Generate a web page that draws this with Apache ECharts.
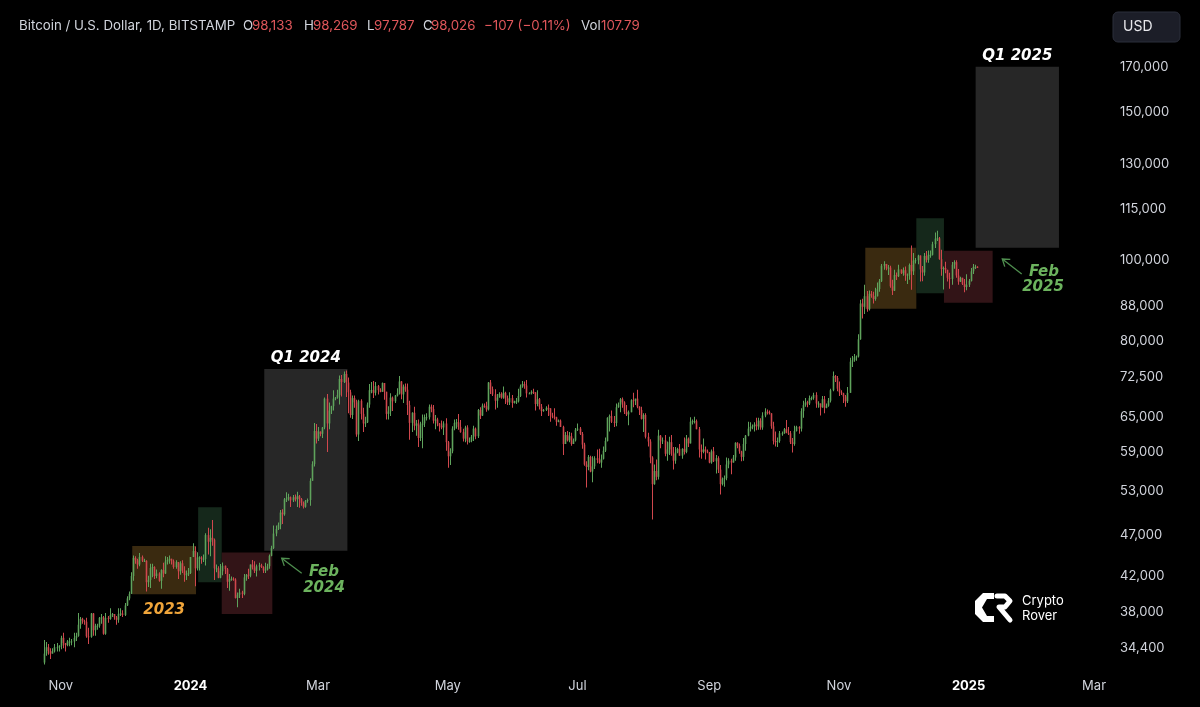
<!DOCTYPE html>
<html><head><meta charset="utf-8">
<script src="https://cdn.jsdelivr.net/npm/echarts@6/dist/echarts.min.js"></script>
<style>html,body{margin:0;padding:0;background:#000}#c{width:1200px;height:707px}</style>
</head><body><div id="c"></div>
<script>
// ---------- DATA (prices in thousands of USD, daily, BITSTAMP) ----------
const startDate = '2023-10-24';
const firstOpen = 33.08;
const closeK = [
// Oct 2023 (24-31)
33.9,34.5,34.15,33.9,34.1,34.5,34.5,34.65,
// Nov 2023
35.4,34.9,34.7,35.05,35.05,35.05,35.4,35.6,36.7,37.3,37.1,37.0,35.55,35.5,37.85,36.15,36.6,36.6,37.4,37.45,35.8,37.4,37.3,37.7,37.8,37.45,37.2,37.8,37.85,37.7,
// Dec 2023
38.7,39.45,39.95,41.95,44.1,43.8,43.3,44.2,43.75,43.75,41.25,41.5,42.9,43.0,41.95,42.25,41.4,42.65,42.25,43.65,43.85,43.99,43.7,43.0,43.6,42.5,43.45,42.6,42.1,42.15,42.3,
// Jan 2024
44.2,44.95,42.85,44.15,44.15,43.95,43.95,46.95,46.1,46.6,46.35,42.85,42.85,41.75,42.5,43.15,42.75,41.3,41.6,41.65,41.55,39.5,39.85,40.1,39.95,41.8,42.1,42.0,43.3,42.95,42.55,
// Feb 2024
43.1,43.2,43.0,42.6,42.7,43.1,44.35,45.3,47.15,47.75,48.3,49.95,49.7,51.8,51.9,52.1,51.65,52.1,51.8,52.25,51.85,51.3,50.75,51.55,51.7,54.5,57.05,62.5,61.2,
// Mar 2024
62.4,62.0,63.1,68.3,63.8,66.1,66.9,68.3,68.5,69.0,72.1,71.5,73.1,71.4,69.5,65.3,68.4,67.6,61.9,67.9,65.5,63.8,64.0,67.2,69.9,69.9,69.4,70.7,69.9,69.6,71.3,
// Apr 2024
69.6,65.5,65.95,68.5,67.8,68.9,69.3,71.6,69.1,70.6,70.0,67.1,63.9,65.7,63.4,63.8,61.3,63.5,63.8,64.9,64.9,66.8,66.4,64.3,64.5,63.8,63.4,63.1,63.8,60.6,
// May 2024
58.3,59.1,62.9,63.9,64.0,63.2,62.3,61.2,63.1,60.8,60.8,61.5,62.9,61.6,66.2,65.2,67.0,66.9,66.3,71.4,70.1,69.1,67.9,68.5,69.2,68.5,69.4,68.3,67.6,68.4,67.5,
// Jun 2024
67.8,67.8,68.8,70.6,71.1,70.8,69.3,69.3,69.6,69.5,67.3,68.2,66.8,66.0,66.2,66.6,66.5,65.2,65.0,64.9,64.1,64.3,63.2,60.3,61.8,60.9,61.6,60.3,60.9,62.7,
// Jul 2024
62.9,62.0,60.2,57.0,56.6,58.2,55.9,56.7,58.0,57.7,57.3,57.9,59.2,60.8,64.8,65.1,64.1,63.9,66.7,67.2,68.2,67.6,65.9,65.4,65.8,68.0,67.9,68.3,66.8,66.2,64.6,
// Aug 2024
65.3,61.5,60.7,58.1,54.0,56.0,55.1,61.7,60.9,60.9,58.7,59.4,60.6,58.7,57.6,58.9,59.5,58.4,59.5,59.0,61.2,60.4,64.1,64.2,64.2,62.8,59.4,59.0,59.4,59.1,58.9,
// Sep 2024
57.3,59.1,57.5,58.0,56.2,54.0,54.8,54.9,57.0,57.6,57.3,58.1,60.5,60.0,59.1,58.2,60.3,61.7,62.9,63.2,63.3,63.6,63.3,64.3,63.1,65.2,65.9,65.8,65.6,63.3,
// Oct 2024
60.8,60.6,60.8,62.1,62.1,62.8,62.2,62.1,60.6,60.3,62.5,63.2,62.9,66.0,67.1,67.6,67.4,68.4,68.4,69.0,67.4,67.4,66.7,68.2,66.6,67.0,67.9,69.9,72.7,72.3,70.2,
// Nov 2024
69.5,69.3,68.7,67.8,69.4,75.6,75.9,76.5,76.7,80.4,88.7,87.9,90.5,87.3,91.1,90.6,89.8,90.5,92.3,94.3,98.4,98.9,97.7,97.9,93.0,91.9,95.9,95.6,97.4,96.4,
// Dec 2024
97.2,95.9,96.0,98.6,96.9,99.8,99.9,101.2,97.4,96.6,101.1,100.0,101.4,101.4,104.4,106.0,106.1,100.2,97.5,97.8,97.3,95.2,94.9,98.7,99.4,95.8,94.2,95.2,93.6,92.8,93.4,
// Jan 2025
94.4,96.9,98.1,98.133,98.026
];
const highK = [
35.2,35.0,34.8,34.4,34.4,34.8,34.9,34.7,
35.6,35.9,34.9,35.2,35.4,35.3,35.9,35.9,37.9,37.5,37.4,37.2,37.4,36.4,37.9,37.9,36.8,36.8,37.5,37.8,37.6,37.9,37.6,38.4,37.9,37.8,37.6,38.4,38.4,38.2,
38.95,39.7,40.2,42.4,44.4,44.3,44.0,44.7,44.4,44.0,43.8,42.0,43.4,43.4,43.1,42.7,42.4,42.75,43.5,44.3,44.2,44.4,44.0,43.9,43.8,43.6,43.7,43.8,43.1,42.6,42.9,
44.2,45.9,45.5,44.8,44.3,44.3,44.5,47.2,47.9,47.7,48.95,46.5,43.3,43.1,43.35,43.55,43.2,42.9,42.2,41.9,41.8,41.7,40.1,40.5,40.3,42.2,42.2,42.8,43.3,43.85,43.7,
43.3,43.5,43.4,43.1,43.5,43.4,44.5,45.6,48.2,48.2,48.6,50.3,50.4,52.0,52.8,52.6,52.2,52.4,52.5,52.9,52.4,52.0,51.5,51.7,51.9,54.9,57.5,63.9,63.7,
63.2,62.4,63.2,68.5,69.2,67.6,67.0,69.9,68.6,70.0,72.8,72.9,73.6,73.8,72.4,70.0,68.9,68.9,68.1,68.1,68.2,66.6,65.0,67.6,71.1,71.5,71.7,71.5,70.9,70.3,71.4,
71.3,69.6,66.9,69.3,68.7,69.0,70.3,72.7,71.7,71.0,71.2,71.2,67.9,65.8,66.8,64.4,64.5,64.1,65.4,65.4,65.6,67.2,67.2,67.1,65.3,64.8,63.9,64.3,64.2,64.7,
60.8,59.6,63.3,64.5,64.6,65.5,64.4,62.9,63.4,63.5,61.4,61.8,63.4,63.1,66.4,66.7,67.4,67.4,67.7,71.5,71.9,70.6,70.1,69.2,69.5,69.5,70.6,69.6,68.9,69.5,69.0,
67.9,68.4,70.2,71.0,71.7,71.6,71.9,69.5,69.9,70.2,69.5,69.9,68.4,67.3,66.4,66.9,67.2,66.5,65.7,66.5,65.0,64.5,64.5,63.4,62.3,62.5,62.3,62.2,61.2,63.0,
63.8,63.2,62.3,60.5,57.5,58.5,58.4,58.3,58.3,59.4,59.5,58.6,59.9,61.4,64.9,65.4,66.1,65.1,67.4,67.6,68.4,68.5,67.8,67.1,66.1,68.2,69.4,68.3,70.0,66.9,66.8,
65.6,65.6,62.2,61.1,58.3,57.0,57.8,62.7,61.8,61.4,61.8,60.7,61.5,61.8,59.8,59.8,59.7,60.3,59.6,61.4,61.8,61.4,64.9,64.5,65.0,64.5,63.2,60.2,61.2,59.9,59.4,
59.0,59.4,59.8,58.5,58.3,56.9,55.0,55.3,58.1,58.0,57.9,58.5,60.6,60.6,60.4,59.2,61.3,61.8,64.1,64.0,63.6,64.0,64.8,64.8,64.7,65.8,66.5,66.3,66.1,65.6,
64.1,62.4,61.4,62.5,62.4,63.0,64.4,63.2,62.5,61.3,63.4,63.4,63.3,66.5,67.9,68.4,67.9,68.9,68.7,69.4,69.5,67.8,67.4,68.8,68.8,67.4,68.4,70.2,73.6,72.9,72.7,
71.6,69.9,69.4,69.0,70.5,76.4,76.8,77.2,76.9,81.5,89.6,89.9,93.4,91.8,91.9,91.8,91.6,92.6,94.0,94.9,98.9,99.6,98.9,98.6,98.4,94.7,97.3,96.6,98.7,97.4,
97.9,98.2,96.3,99.0,104.0,101.9,100.5,101.4,101.2,98.3,101.9,102.5,102.6,102.6,105.1,107.8,108.3,106.5,102.8,98.2,99.5,97.3,96.5,99.4,99.9,99.9,97.5,95.5,95.2,94.9,96.1,
94.9,97.8,98.9,98.7,98.269
];
const lowK = [
32.9,33.7,33.8,33.4,33.9,34.0,34.1,34.1,
34.3,34.4,34.1,34.6,34.6,34.7,34.5,35.1,35.5,36.3,36.8,36.7,35.4,34.8,35.4,35.6,35.6,36.2,36.4,36.8,35.7,35.7,36.9,37.2,37.5,37.2,36.7,36.9,37.6,37.5,
37.6,38.65,39.25,39.95,41.4,43.4,42.8,43.1,43.6,43.6,40.2,40.7,40.6,41.8,41.6,41.7,41.3,40.5,41.8,42.2,43.3,43.4,43.3,42.8,42.8,41.6,42.1,42.3,41.3,41.5,41.95,
42.2,44.2,40.8,42.6,42.6,43.4,43.6,43.2,44.5,44.3,45.6,41.5,42.4,41.7,41.7,42.05,42.2,40.6,40.3,41.4,41.4,39.45,38.5,39.5,39.5,39.8,41.4,41.6,41.8,42.7,42.3,
41.9,42.6,42.9,42.3,42.3,42.6,42.8,44.3,45.2,46.8,47.6,47.7,48.4,49.5,51.4,51.6,50.7,51.4,51.5,50.7,50.6,50.9,50.5,50.6,51.3,50.9,54.5,56.7,60.4,
60.8,61.6,61.3,62.8,59.0,62.8,65.5,66.1,68.0,68.3,67.2,68.7,71.3,68.6,65.6,64.8,64.6,66.6,61.5,60.8,64.5,62.3,63.2,63.9,66.6,69.3,68.4,68.9,69.1,69.5,69.6,
68.1,64.5,64.5,65.1,66.0,67.5,68.7,69.1,68.2,67.5,69.6,65.3,61.0,62.3,62.6,61.7,59.8,60.8,59.6,63.2,64.3,64.5,65.8,63.8,62.8,63.3,62.4,62.8,61.8,59.2,
56.5,56.9,58.8,62.6,62.9,62.7,62.2,60.7,60.6,60.2,60.5,60.6,60.8,61.1,61.3,64.6,65.1,66.6,65.9,66.1,69.2,68.8,66.3,66.6,68.5,68.3,68.3,67.3,67.1,67.1,66.6,
67.4,67.3,67.6,68.6,70.4,70.2,68.5,69.2,69.1,69.2,66.1,66.9,66.3,65.1,65.9,66.0,65.1,64.1,64.7,64.5,63.4,64.0,63.2,58.5,60.3,60.7,60.6,60.0,60.4,60.7,
62.5,61.8,59.5,56.8,53.5,56.1,55.8,54.3,56.3,57.2,57.1,56.5,57.8,59.0,60.7,62.4,63.9,63.2,63.3,66.6,65.8,66.6,65.5,65.1,63.5,65.8,66.7,67.1,66.5,65.3,64.5,
62.3,61.2,59.9,57.2,49.0,53.9,54.6,54.7,59.6,60.3,58.3,57.6,58.5,58.4,56.2,57.1,58.8,58.4,57.9,58.6,58.8,59.8,60.4,63.6,63.8,62.8,58.1,57.9,58.8,57.8,58.8,
57.2,57.1,57.4,55.6,55.7,52.5,53.8,53.6,54.6,56.4,55.5,57.3,57.6,59.6,58.7,57.5,57.6,59.2,61.6,62.4,62.8,62.4,62.6,62.7,62.7,62.7,64.9,65.4,65.4,62.9,
60.2,59.9,59.8,60.5,61.7,62.0,62.1,61.8,60.3,58.9,60.0,62.4,62.0,62.4,64.8,66.8,66.7,67.1,68.0,68.1,66.6,66.6,65.2,66.6,65.6,66.5,66.8,67.6,69.7,71.5,69.7,
68.8,69.0,67.5,66.8,67.5,69.4,74.5,75.6,75.8,76.5,80.3,85.1,86.2,86.7,87.0,90.1,88.7,89.4,90.4,91.6,94.1,97.3,97.2,95.9,92.6,90.8,91.8,94.6,95.4,96.2,
95.7,94.4,93.6,94.7,92.1,95.9,99.0,98.8,94.2,94.3,95.7,99.3,99.2,100.6,101.2,103.3,105.3,100.0,95.7,92.2,96.4,94.2,92.4,93.4,97.6,95.2,93.4,94.1,93.3,91.5,92.0,
92.8,94.2,96.2,97.5,97.787
];

// axis ticks
const yTicks = [34400, 38000, 42000, 47000, 53000, 59000, 65000, 72500, 80000, 88000, 100000, 115000, 130000, 150000, 170000];
const xTickDates = ['2023-11-01','2024-01-01','2024-03-01','2024-05-01','2024-07-01','2024-09-01','2024-11-01','2025-01-01','2025-03-01'];
const xTickLabels = ['Nov','2024','Mar','May','Jul','Sep','Nov','2025','Mar'];
const boldTickLabels = ['2024','2025'];

// header texts
const headerTitle = 'Bitcoin / U.S. Dollar, 1D, BITSTAMP';
const ohlcKeys = ['O','H','L','C'];
const ohlcVals = ['98,133','98,269','97,787','98,026'];
const changeText = '\u2212107 (\u22120.11%)';
const volKey = 'Vol', volVal = '107.79';

// annotation boxes: day0, day1 (days from 2024-01-01), price top, price bottom, kind, label
const boxDay0   = [-27.4, 3.6, 14.7, 34.7, 317.4, 341.4, 354.4, 369.3];
const boxDay1   = [2.6, 14.7, 38.5, 73.8, 341.4, 354.4, 377.3, 408.5];
const boxTop    = [45560, 50670, 44770, 74090, 103390, 112090, 102540, 170000];
const boxBottom = [39900, 41230, 37800, 44970, 87430, 91220, 88890, 103390];
const boxKind   = ['orange','green','red','gray','orange','green','red','gray'];
const boxLabel  = ['2023','','','Q1 2024','','','','Q1 2025'];
const febLabels = [['Feb','2024'],['Feb','2025']];

// ---------- BUILD ----------
const DAY = 86400000, EPOCH = Date.UTC(2024,0,1);
function dayOf(s){ const [y,m,d] = s.split('-').map(Number); return (Date.UTC(y,m-1,d)-EPOCH)/DAY; }
const d0 = dayOf(startDate);
const L = v => Math.log(v);
const candles = closeK.map((c,i) => {
  const o = i === 0 ? firstOpen : closeK[i-1];
  const h = Math.max(highK[i], o, c), l = Math.min(lowK[i], o, c);
  return [d0 + i, L(o*1000), L(c*1000), L(l*1000), L(h*1000)];
});
const boxData = boxDay0.map((x0,i) => [x0, boxDay1[i], L(boxTop[i]), L(boxBottom[i]), i]);
const xTickDays = xTickDates.map(dayOf);

const UP = '#5fa35c', DOWN = '#d0474d';
const boxColors = { orange: '#3a2a10', green: '#15281b', red: '#321417', gray: '#272727' };
const labelColors = { orange: '#f0a53a', gray: '#ffffff' };
const FONT = "Inter, 'Noto Sans', sans-serif";
const annFont = "italic bold 15px 'DejaVu Sans', sans-serif";

const TXT = '#d1d4dc', RED = '#e0575b', ARROW = '#4f8f4f', FEB = '#6cb35e';
function arrow(x1,y1,x2,y2){
  const dx = x2-x1, dy = y2-y1, len = Math.hypot(dx,dy);
  const ux = -dx/len, uy = -dy/len, a = 0.6, hl = 8;
  const p1 = [x2 + hl*(ux*Math.cos(a) - uy*Math.sin(a)), y2 + hl*(ux*Math.sin(a) + uy*Math.cos(a))];
  const p2 = [x2 + hl*(ux*Math.cos(-a) - uy*Math.sin(-a)), y2 + hl*(ux*Math.sin(-a) + uy*Math.cos(-a))];
  return [
    { type: 'line', shape: { x1, y1, x2, y2 }, style: { stroke: ARROW, lineWidth: 1.3 } },
    { type: 'polyline', shape: { points: [p1, [x2,y2], p2] }, style: { stroke: ARROW, lineWidth: 1.3, fill: null } }
  ];
}
function txt(x, y, text, fill, extra){
  return { type: 'text', x, y, style: Object.assign({ text, fill, font: '13.3px ' + FONT, textVerticalAlign: 'middle' }, extra || {}) };
}
const headerY = 26;
const ohlcX = [[243,252],[304,313],[367,374],[423,431]];
const graphics = [
  txt(19, headerY, headerTitle, TXT),
  ...ohlcKeys.flatMap((k,i) => [txt(ohlcX[i][0], headerY, k, TXT), txt(ohlcX[i][1], headerY, ohlcVals[i], RED)]),
  txt(484, headerY, changeText, RED),
  txt(581, headerY, volKey, TXT),
  txt(601, headerY, volVal, RED),
  { type: 'rect', shape: { x: 1113, y: 12, width: 67, height: 30, r: 5 }, style: { fill: '#1c1e28', stroke: '#2b2e3a', lineWidth: 1 } },
  txt(1123, 27, 'USD', '#e8e8ec', { font: '14px ' + FONT }),
  ...arrow(301.7, 573.3, 281.7, 558.3),
  ...arrow(1021.7, 274, 1002.3, 259),
  txt(324, 572, febLabels[0][0], FEB, { font: annFont, textAlign: 'center' }),
  txt(324, 588, febLabels[0][1], FEB, { font: annFont, textAlign: 'center' }),
  txt(1044, 272, febLabels[1][0], FEB, { font: annFont, textAlign: 'center' }),
  txt(1043, 287, febLabels[1][1], FEB, { font: annFont, textAlign: 'center' }),
  // Crypto Rover logo mark
  { type: 'polygon', shape: { points: [[994,593],[983,593],[975,601],[975,614],[983,622],[994,622],[994,616],[987,616],[982,607.5],[987,599],[994,599]] }, style: { fill: '#ffffff' } },
  { type: 'polyline', shape: { points: [[997,596],[1005,596],[1010,601],[1005,607],[999,607],[1010,620]] }, style: { stroke: '#ffffff', lineWidth: 5, lineJoin: 'round', lineCap: 'round', fill: null } },
  txt(1022, 601, 'Crypto', '#ffffff', { font: '13px ' + FONT }),
  txt(1022, 616, 'Rover', '#ffffff', { font: '13px ' + FONT })
];

const chart = echarts.init(document.getElementById('c'), null, { renderer: 'canvas' });
chart.setOption({
  backgroundColor: '#000000',
  animation: false,
  grid: { left: 0, right: 90, top: 40, bottom: 42, containLabel: false, outerBoundsMode: 'none' },
  xAxis: {
    type: 'value', min: -89.6, max: 432.5,
    splitLine: { show: false }, axisLine: { show: false }, axisTick: { show: false },
    axisLabel: {
      customValues: xTickDays, margin: 15, color: TXT, fontSize: 13, fontFamily: FONT,
      formatter: v => {
        const i = xTickDays.findIndex(t => Math.abs(t - v) < 0.01);
        const s = i >= 0 ? xTickLabels[i] : '';
        return boldTickLabels.includes(s) ? '{b|' + s + '}' : s;
      },
      rich: { b: { color: '#ffffff', fontWeight: 'bold', fontSize: 13, fontFamily: FONT } }
    }
  },
  yAxis: {
    type: 'value', position: 'right', min: 10.3999, max: 12.1170,
    splitLine: { show: false }, axisLine: { show: false }, axisTick: { show: false },
    axisLabel: {
      customValues: yTicks.map(L), margin: 10, color: TXT, fontSize: 13, fontFamily: FONT,
      formatter: v => {
        const p = Math.exp(v);
        let best = yTicks[0];
        yTicks.forEach(t => { if (Math.abs(t - p) < Math.abs(best - p)) best = t; });
        return best.toLocaleString('en-US');
      }
    }
  },
  series: [{
    type: 'custom', name: 'boxes', z: 1, silent: true,
    data: boxData, encode: { x: [0, 1], y: [2, 3] },
    renderItem: (params, api) => {
      const i = params.dataIndex;
      const p0 = api.coord([api.value(0), api.value(2)]);
      const p1 = api.coord([api.value(1), api.value(3)]);
      const kind = boxKind[i];
      const children = [{ type: 'rect', shape: { x: p0[0], y: p0[1], width: p1[0]-p0[0], height: p1[1]-p0[1] }, style: { fill: boxColors[kind] } }];
      if (boxLabel[i]) {
        const cx = (p0[0] + p1[0]) / 2;
        const cy = kind === 'gray' ? p0[1] - 11 : p1[1] + 16;
        children.push({ type: 'text', x: cx, y: cy, style: { text: boxLabel[i], fill: labelColors[kind], font: annFont, textAlign: 'center', textVerticalAlign: 'middle' } });
      }
      return { type: 'group', children };
    }
  }, {
    type: 'custom', name: 'BTCUSD', z: 3, silent: true, clip: true,
    data: candles, encode: { x: 0, y: [1, 2, 3, 4] },
    renderItem: (params, api) => {
      const x = api.value(0), o = api.value(1), c = api.value(2), l = api.value(3), h = api.value(4);
      const pO = api.coord([x, o]), pC = api.coord([x, c]), pL = api.coord([x, l]), pH = api.coord([x, h]);
      const color = c >= o ? UP : DOWN;
      const cx = Math.round(pO[0]);
      const top = Math.min(pO[1], pC[1]), hgt = Math.max(1, Math.abs(pO[1] - pC[1]));
      return { type: 'group', children: [
        { type: 'rect', shape: { x: cx, y: pH[1], width: 1, height: Math.max(1, pL[1] - pH[1]) }, style: { fill: color } },
        { type: 'rect', shape: { x: cx - 0.3, y: top, width: 1.6, height: hgt }, style: { fill: color } }
      ] };
    }
  }],
  graphic: graphics
});
</script></body></html>
